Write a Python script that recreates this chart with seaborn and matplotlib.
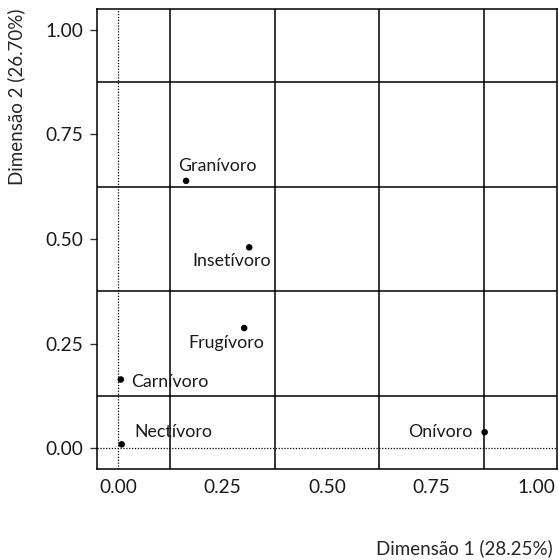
import numpy as np
import pandas as pd
import matplotlib
matplotlib.use("Agg")
import matplotlib.pyplot as plt
import seaborn as sns

# ─────────────────────────────────────────────
# data
# ─────────────────────────────────────────────
groups = ["Granívoro", "Insetívoro", "Frugívoro", "Carnívoro", "Nectívoro", "Onívoro"]
dim1 = [0.163, 0.314, 0.302, 0.007, 0.009, 0.877]
dim2 = [0.639, 0.480, 0.287, 0.164, 0.009, 0.038]

x_ticks = [0.00, 0.25, 0.50, 0.75, 1.00]
y_ticks = [0.00, 0.25, 0.50, 0.75, 1.00]
grid_breaks = [0.125, 0.375, 0.625, 0.875]

x_title = "Dimensão 1 (28.25%)"
y_title = "Dimensão 2 (26.70%)"

df = pd.DataFrame({"grupo": groups, "d1": dim1, "d2": dim2})

# label placement, pixel offsets from each point (ggrepel-like)
label_pos = {
    "Granívoro":  (31, 15, "center"),
    "Insetívoro": (-18, -14, "center"),
    "Frugívoro":  (-18, -15, "center"),
    "Carnívoro":  (10, -2, "left"),
    "Nectívoro":  (52, 12, "center"),
    "Onívoro":    (-44, 0, "center"),
}

# ─────────────────────────────────────────────
# style
# ─────────────────────────────────────────────
sns.set_theme(style="white")
plt.rcParams["font.family"] = ["Lato", "DejaVu Sans"]

fig = plt.figure(figsize=(5.59, 5.60), dpi=100)
ax = fig.add_axes([0.1735, 0.1625, 0.8229, 0.8215])

# reference lines through the origin
ax.axvline(0, color="black", lw=0.9, ls=(0, (1, 1.3)), zorder=1)
ax.axhline(0, color="black", lw=0.9, ls=(0, (1, 1.3)), zorder=1)

sns.scatterplot(data=df, x="d1", y="d2", color="black", s=22,
                edgecolor="none", ax=ax, zorder=3)

for g, x, y in zip(groups, dim1, dim2):
    dx, dy, ha = label_pos[g]
    ax.annotate(g, (x, y), xytext=(dx, dy), textcoords="offset pixels",
                ha=ha, va="center", fontsize=12.8, color="#1a1a1a")

ax.set_xlim(-0.05, 1.05)
ax.set_ylim(-0.05, 1.05)

ax.set_xticks(x_ticks)
ax.set_yticks(y_ticks)
ax.set_xticklabels([f"{v:.2f}" for v in x_ticks])
ax.set_yticklabels([f"{v:.2f}" for v in y_ticks])
ax.set_xticks(grid_breaks, minor=True)
ax.set_yticks(grid_breaks, minor=True)

ax.grid(False, which="major")
ax.grid(True, which="minor", color="black", lw=1.1)

ax.tick_params(axis="x", which="major", length=0, pad=7, labelsize=13.8, colors="#1a1a1a")
ax.tick_params(axis="y", which="major", length=5, width=1, pad=5, labelsize=13.8,
               left=True, colors="#1a1a1a")
ax.tick_params(which="minor", length=0)
ax.tick_params(axis="y", which="major", color="#333333")

for sp in ax.spines.values():
    sp.set_color("black")
    sp.set_linewidth(1.1)

ax.set_xlabel(x_title, loc="right", fontsize=13.5)
ax.set_ylabel(y_title, loc="top", fontsize=13.5)
ax.xaxis.set_label_coords(0.991, -0.153)
ax.yaxis.set_label_coords(-0.157, 1.0)

plt.savefig("out.png", dpi=100)
